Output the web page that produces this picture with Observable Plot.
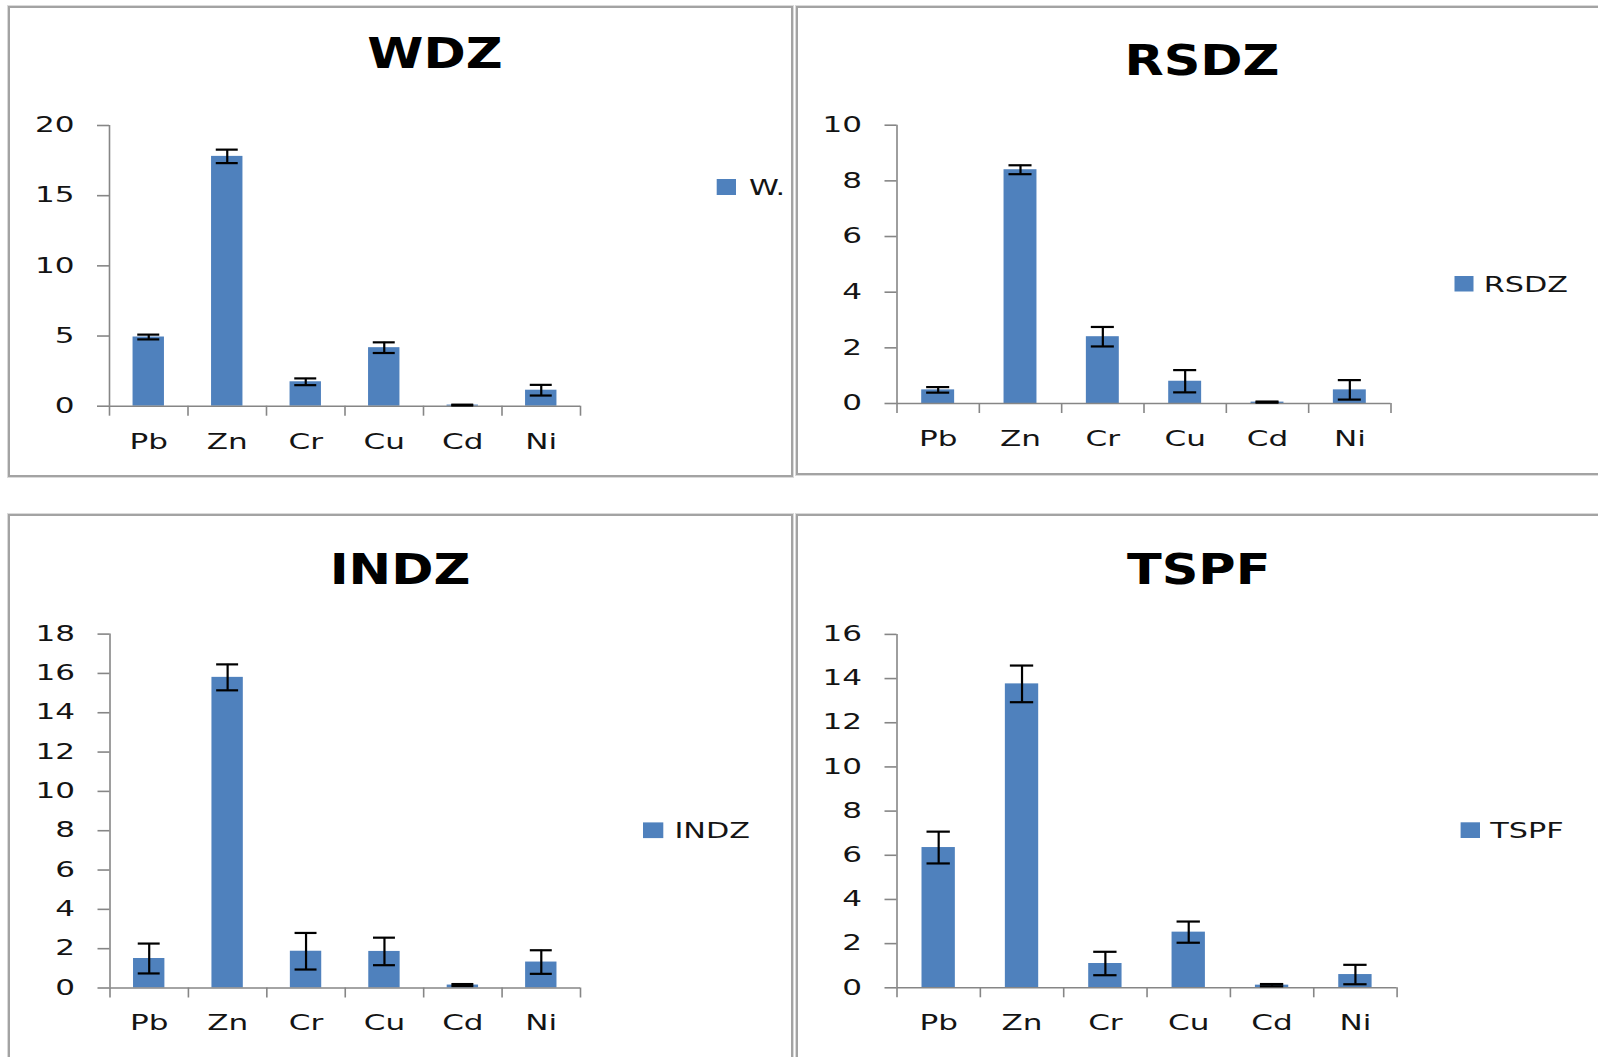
<!DOCTYPE html>
<html>
<head>
<meta charset="utf-8">
<script src="https://cdn.jsdelivr.net/npm/d3@7"></script>
<script src="https://cdn.jsdelivr.net/npm/@observablehq/plot@0.6"></script>
<style>
  html, body { margin: 0; padding: 0; background: #fff; }
  #page { position: relative; width: 1598px; height: 1057px; overflow: hidden; background: #fff; }
  .box { position: absolute; box-sizing: border-box; border: 2px solid #a3a3a3; box-shadow: 0 0 0 1px #dadada; }
  .chart { position: absolute; }
  #overlay { position: absolute; left: 0; top: 0; pointer-events: none; }
</style>
</head>
<body>
<div id="page"></div>
<script>
// Metals measured at each site
const metals = ["Pb", "Zn", "Cr", "Cu", "Cd", "Ni"];

// Mean concentrations and their error ranges, one pair per site
const wdzMean  = [4.93, 17.80, 1.74, 4.17, 0.08, 1.14];
const wdzErr   = [0.17, 0.48, 0.24, 0.38, 0.03, 0.38];
const rsdzMean = [0.49, 8.40, 2.40, 0.80, 0.05, 0.49];
const rsdzErr  = [0.10, 0.16, 0.35, 0.40, 0.02, 0.35];
const indzMean = [1.50, 15.80, 1.87, 1.86, 0.15, 1.32];
const indzErr  = [0.76, 0.66, 0.93, 0.70, 0.05, 0.60];
const tspfMean = [6.35, 13.76, 1.10, 2.52, 0.12, 0.60];
const tspfErr  = [0.72, 0.83, 0.53, 0.48, 0.05, 0.44];

// Value-axis ticks per site
const wdzTicks  = [0, 5, 10, 15, 20];
const rsdzTicks = [0, 2, 4, 6, 8, 10];
const indzTicks = [0, 2, 4, 6, 8, 10, 12, 14, 16, 18];
const tspfTicks = [0, 2, 4, 6, 8, 10, 12, 14, 16];

// Site names: chart titles and legend entries
const siteTitles  = ["WDZ", "RSDZ", "INDZ", "TSPF"];
const legendNames = ["W.", "RSDZ", "INDZ", "TSPF"];

const BAR = "#4f81bd";
const AXIS = "#868686";
const INK = "#141414";
const FONT = "DejaVu Sans, Verdana, sans-serif";
const TEXT_STRETCH = 1.48;
const TITLE_STRETCH = 1.17;
const KEY_STRETCH = 1.42;

// Page layout of the four framed charts
const layout = [
  {box: [8, 6, 785, 471], svg: {left: 9, top: 7, width: 782, height: 469, ml: 100, mr: 211, mt: 118, mb: 70.3},
   title: [435, 68.3], key: {x: 716.7, y: 179, w: 19.3, h: 16, tx: 749, ty: 194.5}},
  {box: [796, 6, 810, 469], svg: {left: 797, top: 7, width: 801, height: 467, ml: 99.5, mr: 207.5, mt: 117.7, mb: 71},
   title: [1202, 75], key: {x: 1454.5, y: 276, w: 19, h: 15.5, tx: 1483.7, ty: 291.5}},
  {box: [8, 514, 785, 560], svg: {left: 9, top: 515, width: 782, height: 542, ml: 100.5, mr: 211, mt: 118.6, mb: 69.5},
   title: [400, 584], key: {x: 643, y: 822.4, w: 20.3, h: 15.7, tx: 674.4, ty: 838}},
  {box: [796, 514, 810, 560], svg: {left: 797, top: 515, width: 801, height: 542, ml: 99.5, mr: 201.4, mt: 118.9, mb: 69.7},
   title: [1198.7, 584], key: {x: 1460.6, y: 822.3, w: 19.4, h: 15.7, tx: 1490.3, ty: 838}}
];

const series = [
  {mean: wdzMean, err: wdzErr, ticks: wdzTicks},
  {mean: rsdzMean, err: rsdzErr, ticks: rsdzTicks},
  {mean: indzMean, err: indzErr, ticks: indzTicks},
  {mean: tspfMean, err: tspfErr, ticks: tspfTicks}
];

const page = document.getElementById("page");

// Frames first, so the charts sit on top of them
layout.forEach(({box}) => {
  const d = document.createElement("div");
  d.className = "box";
  Object.assign(d.style, {left: box[0] + "px", top: box[1] + "px", width: box[2] + "px", height: box[3] + "px"});
  page.appendChild(d);
});

function stretchTexts(svg, sx) {
  svg.querySelectorAll("text").forEach((t) => {
    const tr = t.getAttribute("transform") || "";
    t.setAttribute("transform", `${tr} scale(${sx},1)`);
  });
}

series.forEach((s, k) => {
  const L = layout[k].svg;
  const rows = metals.map((m, i) => ({i, metal: m, v: s.mean[i], e: s.err[i]}));
  const yMax = s.ticks[s.ticks.length - 1];
  const boundaries = d3.range(metals.length + 1);
  const centers = metals.map((_, i) => i + 0.5);

  const chart = Plot.plot({
    width: L.width,
    height: L.height,
    marginLeft: L.ml,
    marginRight: L.mr,
    marginTop: L.mt,
    marginBottom: L.mb,
    style: {background: "transparent", fontFamily: FONT, fontSize: "21px", color: INK, overflow: "visible"},
    x: {domain: [0, metals.length], label: null},
    y: {domain: [0, yMax], label: null},
    marks: [
      // bars
      Plot.rectY(rows, {x1: (d) => d.i + 0.3, x2: (d) => d.i + 0.7, y1: 0, y2: "v", fill: BAR}),
      // axis lines
      Plot.ruleX([0], {stroke: AXIS, strokeWidth: 1.6}),
      Plot.ruleY([0], {stroke: AXIS, strokeWidth: 1.6}),
      // category boundary ticks
      Plot.axisX({ticks: boundaries, tickSize: 10, tickFormat: () => "", stroke: AXIS, strokeWidth: 1.6, label: null}),
      // category names
      Plot.axisX({ticks: centers, tickSize: 0, tickPadding: 27.5, tickFormat: (d) => metals[Math.floor(d)], fill: INK, label: null}),
      // value ticks and labels
      Plot.axisY({ticks: s.ticks, tickSize: 12, tickPadding: 23, stroke: AXIS, strokeWidth: 1.6, fill: INK, label: null}),
      // error bars with caps
      Plot.ruleX(rows, {x: (d) => d.i + 0.5, y1: (d) => d.v - d.e, y2: (d) => d.v + d.e, stroke: "#000", strokeWidth: 2.2}),
      Plot.ruleY(rows, {y: (d) => d.v + d.e, x1: (d) => d.i + 0.36, x2: (d) => d.i + 0.64, stroke: "#000", strokeWidth: 2.2}),
      Plot.ruleY(rows, {y: (d) => d.v - d.e, x1: (d) => d.i + 0.36, x2: (d) => d.i + 0.64, stroke: "#000", strokeWidth: 2.2})
    ]
  });
  chart.classList.add("chart");
  chart.style.left = L.left + "px";
  chart.style.top = L.top + "px";
  chart.style.maxWidth = "none";
  page.appendChild(chart);
  stretchTexts(chart, TEXT_STRETCH);
});

// Titles and legend keys
const NS = "http://www.w3.org/2000/svg";
const overlay = document.createElementNS(NS, "svg");
overlay.setAttribute("id", "overlay");
overlay.setAttribute("width", 1598);
overlay.setAttribute("height", 1057);
page.appendChild(overlay);

layout.forEach((L, k) => {
  const title = document.createElementNS(NS, "text");
  title.textContent = siteTitles[k];
  title.setAttribute("transform", `translate(${L.title[0]},${L.title[1]}) scale(${TITLE_STRETCH},1)`);
  title.setAttribute("text-anchor", "middle");
  title.setAttribute("font-family", FONT);
  title.setAttribute("font-weight", "bold");
  title.setAttribute("font-size", "43.5");
  title.setAttribute("fill", "#000");
  overlay.appendChild(title);

  const sw = document.createElementNS(NS, "rect");
  sw.setAttribute("x", L.key.x);
  sw.setAttribute("y", L.key.y);
  sw.setAttribute("width", L.key.w);
  sw.setAttribute("height", L.key.h);
  sw.setAttribute("fill", BAR);
  overlay.appendChild(sw);

  const label = document.createElementNS(NS, "text");
  label.textContent = legendNames[k];
  label.setAttribute("transform", `translate(${L.key.tx},${L.key.ty}) scale(${KEY_STRETCH},1)`);
  label.setAttribute("font-family", FONT);
  label.setAttribute("font-size", "21.3");
  label.setAttribute("fill", INK);
  overlay.appendChild(label);
});
</script>
</body>
</html>
